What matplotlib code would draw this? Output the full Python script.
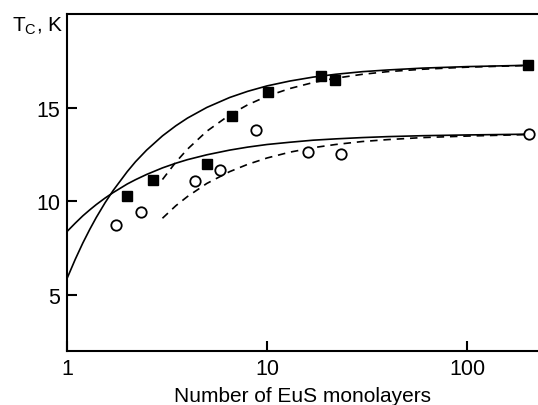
import matplotlib
matplotlib.use("Agg")
import matplotlib.pyplot as plt

plt.rcParams['font.family'] = ['Liberation Sans', 'DejaVu Sans']
plt.rcParams['mathtext.fontset'] = 'custom'
plt.rcParams['mathtext.rm'] = 'Liberation Sans'

# Measured points
sq_n = [2.0, 2.69, 5.03, 6.71, 10.1, 18.5, 21.9, 202]
sq_t = [10.3, 11.15, 11.98, 14.55, 15.83, 16.68, 16.47, 17.29]
ci_n = [1.75, 2.34, 4.37, 5.82, 8.78, 16.1, 23.4, 203]
ci_t = [8.74, 9.41, 11.1, 11.68, 13.81, 12.64, 12.52, 13.61]

# Curves
sol_n = [1, 1.1, 1.2, 1.3, 1.4, 1.55, 1.7, 2, 2.2, 2.5, 3, 3.5, 4, 5, 6.5, 8, 10, 13, 17,
         22, 30, 40, 60, 100, 200]
sol_up = [5.87, 6.90, 7.77, 8.50, 9.13, 9.92, 10.57, 11.58, 12.11, 12.73, 13.49, 14.03,
          14.44, 15.01, 15.54, 15.87, 16.16, 16.42, 16.63, 16.78, 16.92, 17.01, 17.11,
          17.19, 17.26]
sol_lo = [8.38, 8.83, 9.22, 9.54, 9.82, 10.17, 10.46, 10.92, 11.15, 11.43, 11.78, 12.03,
          12.22, 12.48, 12.73, 12.89, 13.03, 13.15, 13.26, 13.33, 13.40, 13.45, 13.50,
          13.54, 13.58]
das_n = [3, 3.5, 4, 5, 6.5, 8, 10, 13, 17, 22, 30, 40, 60, 100, 200]
das_up = [11.16, 12.09, 12.78, 13.74, 14.61, 15.15, 15.61, 16.02, 16.34, 16.57, 16.78,
          16.92, 17.05, 17.16, 17.25]
das_lo = [9.09, 9.76, 10.25, 10.95, 11.58, 11.97, 12.31, 12.62, 12.86, 13.03, 13.19,
          13.29, 13.40, 13.48, 13.56]

fig = plt.figure(figsize=(5.38, 4.06), dpi=100)
ax = fig.add_axes([67/538, 54/406, 1 - 67/538, (352 - 15)/406])

lw = 1.2
ax.plot(sol_n, sol_up, color='black', lw=lw)
ax.plot(sol_n, sol_lo, color='black', lw=lw)
ax.plot(das_n, das_up, color='black', lw=lw, dashes=(4.5, 3.5))
ax.plot(das_n, das_lo, color='black', lw=lw, dashes=(4.5, 3.5))
ax.plot(sq_n, sq_t, 's', color='black', ms=7.5, clip_on=False, zorder=5)
ax.plot(ci_n, ci_t, 'o', mfc='white', mec='black', mew=1.3, ms=7.5, clip_on=False, zorder=5)

ax.set_xscale('log')
ax.set_xlim(1, 226)
ax.set_ylim(2, 20)
ax.set_xticks([1, 10, 100])
ax.set_xticklabels(['1', '10', '100'])
ax.xaxis.set_minor_locator(matplotlib.ticker.NullLocator())
ax.set_yticks([5, 10, 15])
ax.tick_params(direction='in', length=7, width=1.5, labelsize=15.5, pad=5)
for s in ['left', 'bottom', 'top']:
    ax.spines[s].set_linewidth(1.5)
ax.spines['right'].set_visible(False)

ax.set_xlabel('Number of EuS monolayers', fontsize=15, labelpad=5)
fig.text(12/538, 1 - 26/406, r'T$_\mathregular{C}$, K', fontsize=15, va='center', ha='left')

fig.savefig('out.png', dpi=100)
